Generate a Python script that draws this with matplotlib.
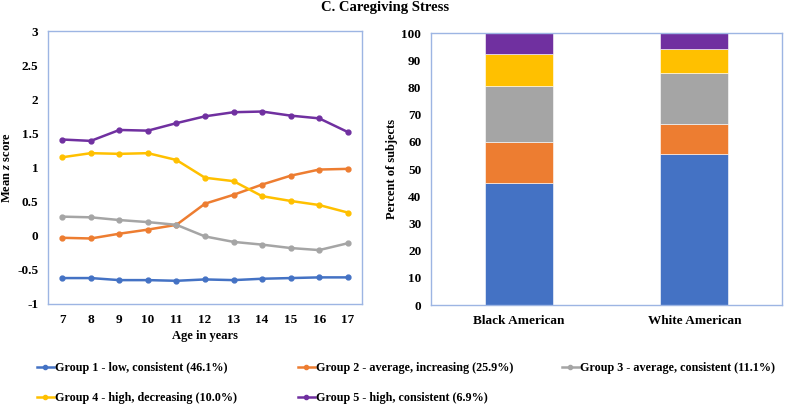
import numpy as np
import matplotlib
matplotlib.use('Agg')
import matplotlib.pyplot as plt
from matplotlib.lines import Line2D

plt.rcParams['font.family'] = ['Liberation Serif', 'DejaVu Serif']
plt.rcParams['font.weight'] = 'bold'
plt.rcParams['mathtext.fontset'] = 'custom'
plt.rcParams['mathtext.it'] = 'Liberation Serif:italic:bold'
plt.rcParams['mathtext.rm'] = 'Liberation Serif:bold'

########################### data ###########################
ages = [7, 8, 9, 10, 11, 12, 13, 14, 15, 16, 17]
g1 = [-0.62, -0.62, -0.65, -0.65, -0.66, -0.64, -0.65, -0.63, -0.62, -0.61, -0.61]
g2 = [-0.03, -0.04, 0.03, 0.09, 0.16, 0.47, 0.60, 0.75, 0.88, 0.97, 0.98]
g3 = [0.28, 0.27, 0.23, 0.20, 0.16, -0.01, -0.09, -0.13, -0.18, -0.21, -0.11]
g4 = [1.15, 1.21, 1.20, 1.21, 1.11, 0.85, 0.80, 0.58, 0.51, 0.45, 0.34]
g5 = [1.41, 1.39, 1.55, 1.54, 1.65, 1.75, 1.81, 1.82, 1.76, 1.72, 1.52]

groups = ['Black American', 'White American']
pct_g1 = [44.7, 55.4]
pct_g2 = [15.2, 11.2]
pct_g3 = [20.6, 18.7]
pct_g4 = [11.8, 8.7]
pct_g5 = [7.7, 6.0]

labels = ['Group 1 - low, consistent (46.1%)',
          'Group 2 - average, increasing (25.9%)',
          'Group 3 - average, consistent (11.1%)',
          'Group 4 - high, decreasing (10.0%)',
          'Group 5 - high, consistent (6.9%)']
colors = ['#4472C4', '#ED7D31', '#A5A5A5', '#FFC000', '#7030A0']
########################### data ###########################

W, H = 787, 405
fig = plt.figure(figsize=(W / 100, H / 100), dpi=100)
spine_col = '#9DB5E3'

def px_axes(x0, y0, x1, y1):
    return fig.add_axes([x0 / W, 1 - y1 / H, (x1 - x0) / W, (y1 - y0) / H])

# left panel : trajectories
ax1 = px_axes(48, 31, 362, 304)
for vals, c in zip([g1, g2, g3, g4, g5], colors):
    ax1.plot(ages, vals, color=c, lw=1.8, marker='o', ms=3.5)
ax1.set_xlim(6.5, 17.5)
ax1.set_ylim(-1, 3)
ax1.set_xticks(ages)
ax1.set_yticks(np.arange(-1, 3.01, 0.5))
ax1.set_yticklabels(['-1', '-0.5', '0', '0.5', '1', '1.5', '2', '2.5', '3'])
ax1.set_xlabel('Age in years', fontsize=9, fontweight='bold', labelpad=3)
ax1.set_ylabel(r'Mean $\it{z}$ score', fontsize=9, fontweight='bold')
ax1.yaxis.set_label_coords(-0.111, 0.5)

# right panel : stacked bars
ax2 = px_axes(431, 33, 782, 305)
x = np.arange(len(groups))
bottom = np.zeros(len(groups))
for vals, c in zip([pct_g1, pct_g2, pct_g3, pct_g4, pct_g5], colors):
    ax2.bar(x, vals, 0.39, bottom=bottom, color=c, edgecolor='white', linewidth=0.4)
    bottom += np.array(vals)
ax2.set_xlim(-0.5, 1.5)
ax2.set_ylim(0, 100)
ax2.set_xticks(x)
ax2.set_xticklabels(groups)
ax2.set_yticks(range(0, 101, 10))
ax2.set_ylabel('Percent of subjects', fontsize=9, fontweight='bold')
ax2.yaxis.set_label_coords(-0.094, 0.5)

for ax in (ax1, ax2):
    for s in ax.spines.values():
        s.set_color(spine_col)
        s.set_linewidth(1.0)
    ax.tick_params(length=0, labelsize=9.5, pad=7)
    for t in ax.get_xticklabels() + ax.get_yticklabels():
        t.set_fontweight('bold')
ax2.tick_params(axis='x', pad=7)

fig.text(385 / W, 1 - 7 / H, 'C. Caregiving Stress', ha='center', va='center',
         fontsize=10.5, fontweight='bold')

# legend, placed column by column
handles = [Line2D([], [], color=c, lw=1.8, marker='o', ms=3) for c in colors]
cols = [(37, [0, 3]), (298, [1, 4]), (562, [2])]
for xpos, idx in cols:
    leg = fig.legend([handles[i] for i in idx], [labels[i] for i in idx],
                     loc='upper left', bbox_to_anchor=(xpos / W, 1 - 362 / H),
                     frameon=False, fontsize=8.7, handlelength=1.4, handletextpad=0.1,
                     labelspacing=1.5, borderpad=0, borderaxespad=0)
    for t in leg.get_texts():
        t.set_fontweight('bold')

fig.savefig('out.png', dpi=100)
